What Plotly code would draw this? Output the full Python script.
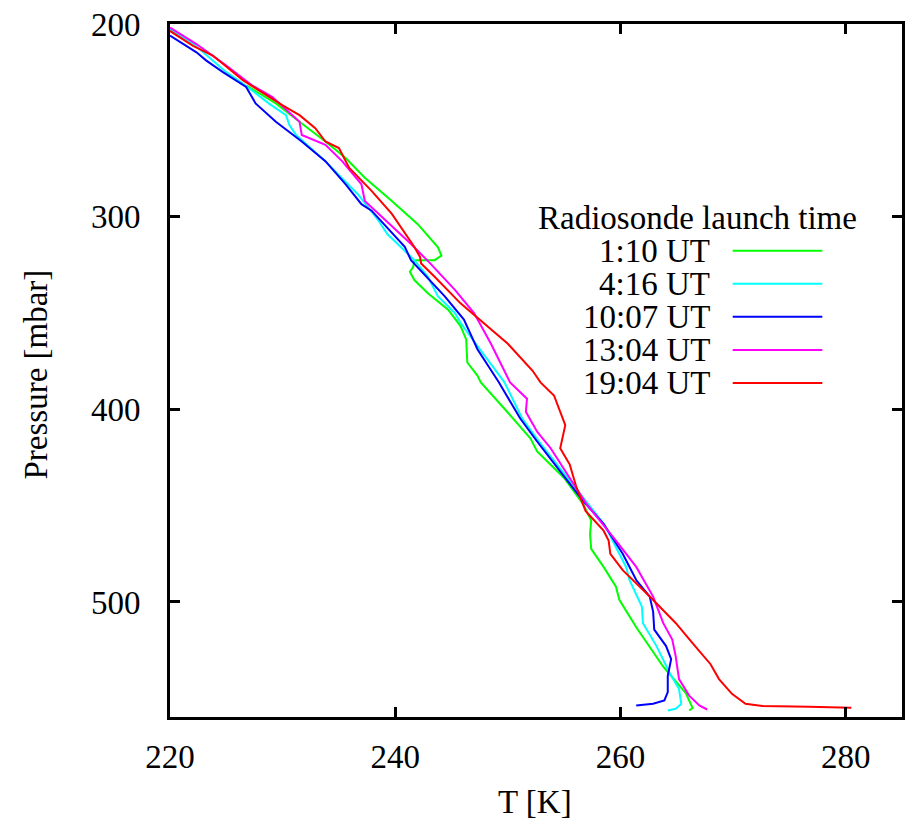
import plotly.graph_objects as go

# ---- data (T in K, P in mbar) ----
t_0110 = [226.8, 229.4, 231.5, 233.8, 235.6, 237.3, 239.7, 242.0, 243.8, 244.1, 243.5, 241.7, 241.6, 241.3,
          241.7, 242.9, 244.7, 245.8, 246.3, 246.4, 247.3, 247.6, 249.7, 252.0, 252.6, 255.0, 256.7, 257.4,
          257.3, 257.4, 257.4, 258.5, 259.6, 259.9, 261.4, 263.8, 265.8, 266.4, 266.1]
p_0110 = [232, 241.2, 250.7, 261, 269.6, 279.8, 291.9, 303.9, 315.9, 320.2, 322.6, 322.6, 326, 328.6,
          332.9, 339.7, 348.3, 356.8, 363.7, 375.7, 382.5, 386, 399.7, 415.1, 421.9, 435.6, 449.3, 457.8,
          464.7, 469.8, 472.4, 481.8, 492.1, 498.9, 513.1, 533.6, 547.3, 555, 556.3]

t_0416 = [220.0, 222.1, 225.0, 226.5, 228.8, 230.3, 230.6, 231.2, 233.8, 236.7, 238.5, 239.3, 241.7, 242.9,
          243.8, 245.3, 245.8, 246.4, 249.7, 251.3, 252.8, 254.8, 256.9, 258.6, 259.6, 260.5, 260.8, 261.9,
          262.0, 263.2, 264.35, 265.2, 265.4, 264.9, 264.2]
p_0416 = [202.7, 210.4, 225, 231, 241.3, 247.3, 252.5, 257.6, 271.3, 288.5, 302, 309, 322.6, 331.2,
          341.4, 350, 355, 360, 386, 405, 417, 432, 447.6, 460, 471.6, 481.8, 488.6, 502.4,
          511, 522.9, 536.6, 545.2, 552.9, 555.4, 556.3]

t_1007 = [220.0, 222.35, 223.23, 224.7, 226.76, 227.6, 229.4, 231.7, 233.8, 235.6, 237.0, 237.9, 240.85, 241.4,
          244.4, 246.1, 247.3, 249.2, 251.1, 252.6, 254.65, 256.7, 258.5, 260.2, 261.4, 262.6, 262.9, 263.0,
          264.05, 264.5, 264.2, 264.2, 263.9, 262.9, 261.4]
p_1007 = [206, 214.7, 219, 225, 232.7, 241.2, 250.7, 261, 271.2, 283.2, 293.5, 296.9, 315.7, 322.6,
          341.4, 353.4, 368.8, 385.9, 404.8, 416.7, 432.2, 447.6, 459.5, 475, 488.6, 497.2, 505, 514.3,
          522.9, 529.7, 538.3, 546.8, 551.1, 552.8, 553.7]

t_1304 = [220.0, 222.35, 225.0, 227.3, 229.1, 230.9, 231.5, 231.7, 233.8, 235.3, 237.0, 237.3, 239.5, 241.4,
          243.0, 245.3, 247.0, 248.5, 250.2, 251.7, 251.6, 252.6, 253.8, 255.3, 257.0, 259.6, 261.4, 262.9,
          263.8, 264.6, 264.9, 265.2, 266.1, 267.0, 267.7]
p_1304 = [201.9, 210.4, 221.6, 231.9, 237.9, 247.3, 250.7, 257.6, 262.7, 271.3, 283.2, 291.9, 303.9, 314.2,
          323.6, 338, 350, 366, 386, 394.5, 401.3, 411.6, 420.2, 434, 449.3, 468.1, 481.8, 497.2,
          511, 519.5, 528, 540, 548.6, 553.7, 555.8]

t_1904 = [220.0, 222.05, 223.8, 226.5, 230.0, 231.5, 232.9, 233.8, 235.0, 235.6, 235.9, 237.9, 239.7, 241.7,
          242.2, 242.3, 243.5, 245.8, 247.3, 250.0, 252.2, 252.9, 254.1, 255.1, 254.65, 255.5, 256.1, 256.9,
          258.5, 258.95, 259.1, 260.2, 262.6, 264.9, 266.4, 268.0, 268.75, 269.9, 271.1, 272.6, 276.7, 280.5]
p_1904 = [203.6, 211.3, 216.4, 229.3, 242.2, 247.3, 254.1, 261, 264.4, 271.3, 274.6, 286.6, 298.6, 315.7,
          320.9, 324.3, 331.2, 345, 352.6, 366, 380, 386, 392.8, 408.2, 420.2, 428.7, 440.7, 452.7,
          463, 468.1, 475, 483.5, 497.2, 510.9, 521.3, 532.3, 540, 547.7, 552.8, 554, 554.4, 554.9]

labels = ["1:10 UT", "4:16 UT", "10:07 UT", "13:04 UT", "19:04 UT"]
colors = ["#00ff00", "#00ffff", "#0000ff", "#ff00ff", "#ff0000"]
series_t = [t_0110, t_0416, t_1007, t_1304, t_1904]
series_p = [p_0110, p_0416, p_1007, p_1304, p_1904]

x_ticks = [220, 240, 260, 280]
y_ticks = [200, 300, 400, 500]

FONT = "Liberation Serif, Times New Roman, serif"
FS = 33

fig = go.Figure()
for t, p, lab, col in zip(series_t, series_p, labels, colors):
    fig.add_trace(go.Scatter(x=t, y=p, mode="lines", name=lab,
                             line=dict(color=col, width=2), showlegend=False))

W, H = 912, 822
L, R, T, B = 170, 7, 18, 105
pw, ph = W - L - R, H - T - B

def px(x):
    return (x - L) / pw

def py(y):
    return (H - B - y) / ph

ann = [dict(text="Radiosonde launch time", x=px(862), y=py(214), xref="paper", yref="paper",
            xanchor="right", yanchor="middle", showarrow=False, font=dict(family=FONT, size=FS, color="black"))]
rows_y = [246.7, 280, 313.3, 346.7, 380]
for lab, col, yy in zip(labels, colors, rows_y):
    ann.append(dict(text=lab, x=px(714), y=py(yy), xref="paper", yref="paper", xanchor="right",
                    yanchor="middle", showarrow=False, font=dict(family=FONT, size=FS, color="black")))
    fig.add_shape(type="line", xref="paper", yref="paper", x0=px(735), x1=px(825), y0=py(yy), y1=py(yy),
                  line=dict(color=col, width=2))

# axis titles
ann.append(dict(text="T [K]", x=px(536), y=py(803), xref="paper", yref="paper", xanchor="center",
                yanchor="middle", showarrow=False, font=dict(family=FONT, size=FS, color="black")))
ann.append(dict(text="Pressure [mbar]", x=px(35), y=py(372), xref="paper", yref="paper", xanchor="center",
                yanchor="middle", textangle=-90, showarrow=False,
                font=dict(family=FONT, size=FS, color="black")))

fig.update_layout(
    width=W, height=H, margin=dict(l=L, r=R, t=T, b=B),
    paper_bgcolor="white", plot_bgcolor="white",
    font=dict(family=FONT, size=FS, color="black"),
    annotations=ann,
    xaxis=dict(range=[220, 285], tickvals=x_ticks, ticks="inside", ticklen=10, tickwidth=3,
               tickcolor="black", showline=True, linecolor="black", linewidth=3, mirror="ticks",
               showgrid=False, zeroline=False, ticklabelstandoff=8),
    yaxis=dict(range=[559.7, 200], tickvals=y_ticks, ticks="inside", ticklen=10, tickwidth=3,
               tickcolor="black", showline=True, linecolor="black", linewidth=3, mirror="ticks",
               showgrid=False, zeroline=False, ticklabelstandoff=20),
)

fig.write_html("out.html")
